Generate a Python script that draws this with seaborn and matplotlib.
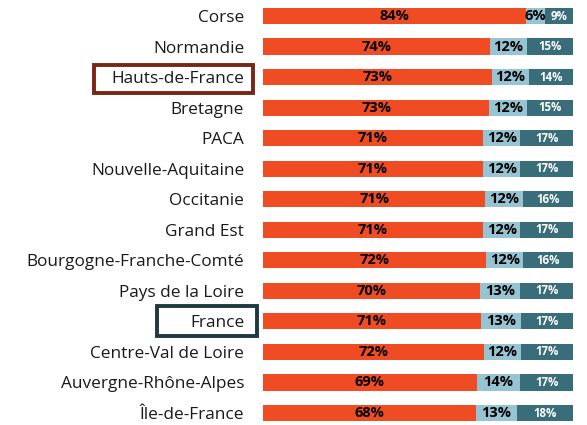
import matplotlib
matplotlib.use('Agg')
import matplotlib.pyplot as plt
import matplotlib.patches as patches
import seaborn as sns
import pandas as pd

# données
regions = ['Corse', 'Normandie', 'Hauts-de-France', 'Bretagne', 'PACA',
           'Nouvelle-Aquitaine', 'Occitanie', 'Grand Est',
           'Bourgogne-Franche-Comté', 'Pays de la Loire', 'France',
           'Centre-Val de Loire', 'Auvergne-Rhône-Alpes', 'Île-de-France']
part_a = [84, 74, 73, 73, 71, 71, 71, 71, 72, 70, 71, 72, 69, 68]
part_b = [6, 12, 12, 12, 12, 12, 12, 12, 12, 13, 13, 12, 14, 13]
part_c = [9, 15, 14, 15, 17, 17, 16, 17, 16, 17, 17, 17, 17, 18]

c_orange = '#EF4C23'
c_light = '#96C4D2'
c_dark = '#3A6D7A'

sns.set_theme(style='white')
plt.rcParams['font.family'] = ['Open Sans', 'DejaVu Sans']

df = pd.DataFrame({'region': regions, 'a': part_a, 'b': part_b, 'c': part_c})
tot = df['a'] + df['b'] + df['c']
df['cum_a'] = df['a'] / tot * 100
df['cum_b'] = (df['a'] + df['b']) / tot * 100
df['cum_c'] = 100.0

fig = plt.figure(figsize=(5.87, 4.25), dpi=100)
ax = fig.add_axes([263 / 587, 1.3 / 425, 310 / 587, 421.4 / 425])

# barres empilées : on superpose les cumuls
sns.barplot(data=df, x='cum_c', y='region', orient='h', color=c_dark,
            width=0.53, saturation=1, ax=ax, linewidth=0)
sns.barplot(data=df, x='cum_b', y='region', orient='h', color=c_light,
            width=0.53, saturation=1, ax=ax, linewidth=0)
sns.barplot(data=df, x='cum_a', y='region', orient='h', color=c_orange,
            width=0.53, saturation=1, ax=ax, linewidth=0)

ax.set_xlim(0, 100)
ax.set_ylim(13.35, -0.45)
ax.set_xlabel('')
ax.set_ylabel('')
ax.set_xticks([])
sns.despine(ax=ax, left=True, bottom=True)
ax.tick_params(axis='y', length=0, pad=13.5, labelsize=12.4, labelcolor='#1a1a1a')

# étiquettes de valeurs
for i, row in df.iterrows():
    ax.text(row['cum_a'] / 2, i, f"{row['a']}%", ha='center', va='center',
            fontsize=10.5, fontweight='bold', color='black')
    ax.text((row['cum_a'] + row['cum_b']) / 2, i, f"{row['b']}%", ha='center',
            va='center', fontsize=10.5, fontweight='bold', color='black')
    ax.text((row['cum_b'] + 100) / 2, i, f"{row['c']}%", ha='center',
            va='center', fontsize=8.3, fontweight='bold', color='white')

# cadres autour de Hauts-de-France et France
def box(x0, y0, x1, y1, col):
    r = patches.Rectangle((x0 / 587, 1 - y1 / 425), (x1 - x0) / 587, (y1 - y0) / 425,
                          transform=fig.transFigure, fill=False, edgecolor=col,
                          linewidth=2.8, zorder=5)
    fig.patches.append(r)

box(94.3, 64.7, 253, 93, '#7A2615')
box(157, 306.3, 257, 336.3, '#1E3A40')

fig.savefig('out.png', dpi=100)
